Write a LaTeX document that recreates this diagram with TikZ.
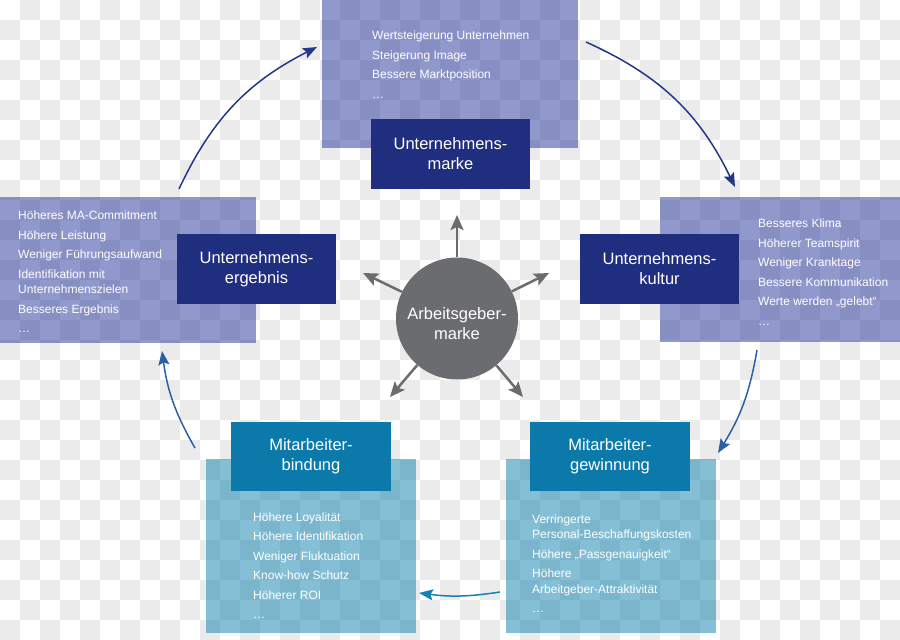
\documentclass[tikz,border=0pt]{standalone}
\usepackage{fontspec}
\setmainfont{Liberation Sans}
\usetikzlibrary{arrows.meta}
\definecolor{navy}{HTML}{1F2E7E}
\definecolor{navyl}{HTML}{22329A}
\definecolor{teal}{HTML}{0B7AAB}
\definecolor{teall}{HTML}{0A80AE}
\definecolor{circgray}{HTML}{6B6C70}
\definecolor{chk}{HTML}{EBEBEB}
\definecolor{arrnavy}{HTML}{233886}
\definecolor{arrblue}{HTML}{2C60A6}
\definecolor{arrteal}{HTML}{1780B5}
\begin{document}
\begin{tikzpicture}[x=1pt,y=-1pt,
  lightbox/.style={draw=none, fill opacity=0.5, inner sep=0pt},
  lnavy/.style={lightbox, fill=navyl},
  lteal/.style={lightbox, fill=teall},
  labelbox/.style={draw=none, text=white, inner sep=0pt, align=center,
    minimum width=159pt, minimum height=70pt,
    font=\fontsize{16.5}{20}\selectfont},
  items/.style={anchor=north west, inner sep=0pt, text=white, align=left,
    font=\fontsize{12}{15.5}\selectfont},
  cyc/.style={line width=1.5pt, -{Stealth[length=14pt,width=11pt,inset=2.5pt]}},
  grayarr/.style={draw=circgray, line width=2.5pt, -{Stealth[length=15pt,width=13pt,inset=3pt]}}
]
\useasboundingbox (0,0) rectangle (900,640);
% checkered background
\fill[white] (0,0) rectangle (900,640);
\foreach \i in {0,...,44}{\foreach \j in {0,...,31}{%
  \ifodd\numexpr\i+\j\relax \fill[chk] (\i*20,\j*20) rectangle ++(20,20);\fi}}

% light boxes
\node[lnavy, minimum width=256pt, minimum height=148pt] (lt) at (450,74) {};
\node[lnavy, minimum width=256pt, minimum height=146pt] (ll) at (128,270) {};
\node[lnavy, minimum width=240pt, minimum height=145pt] (lr) at (780,269.5) {};
\node[lteal, minimum width=210pt, minimum height=174pt] (lbl) at (311,546) {};
\node[lteal, minimum width=210pt, minimum height=174pt] (lbr) at (611,546) {};

% label boxes
\node[labelbox, fill=navy] (bt) at (450.5,154) {Unternehmens-\\marke};
\node[labelbox, fill=navy] (bl) at (256.5,269) {Unternehmens-\\ergebnis};
\node[labelbox, fill=navy] (br) at (659.5,269) {Unternehmens-\\kultur};
\node[labelbox, fill=teal, minimum width=160pt, minimum height=69pt] (bbl) at (311,456.5) {Mitarbeiter-\\bindung};
\node[labelbox, fill=teal, minimum width=160pt, minimum height=69pt] (bbr) at (610,456.5) {Mitarbeiter-\\gewinnung};

% item texts
\node[items] (tt) at (372,28.5) {\strut Wertsteigerung Unternehmen\\[4pt]Steigerung Image\\[4pt]Bessere Marktposition\\[4pt]…};
\node[items] (tl) at (18,208.5) {\strut Höheres MA-Commitment\\[4pt]Höhere Leistung\\[4pt]Weniger Führungsaufwand\\[4pt]Identifikation mit\\Unternehmenszielen\\[4pt]Besseres Ergebnis\\[4pt]…};
\node[items] (tr) at (758,216.5) {\strut Besseres Klima\\[4pt]Höherer Teamspirit\\[4pt]Weniger Kranktage\\[4pt]Bessere Kommunikation\\[4pt]Werte werden „gelebt“\\[4pt]…};
\node[items] (tbl) at (253,510) {\strut Höhere Loyalität\\[4pt]Höhere Identifikation\\[4pt]Weniger Fluktuation\\[4pt]Know-how Schutz\\[4pt]Höherer ROI\\[4pt]…};
\node[items] (tbr) at (532,512) {\strut Verringerte\\Personal-Beschaffungskosten\\[4pt]Höhere „Passgenauigkeit“\\[4pt]Höhere\\Arbeitgeber-Attraktivität\\[4pt]…};

% center circle
\node[circle, fill=circgray, minimum size=122pt, inner sep=0pt] (am) at (457,318.5) {};
\node[text=white, align=center, inner sep=0pt, font=\fontsize{16.5}{20}\selectfont] (amt) at (457,324) {Arbeitsgeber-\\marke};
\coordinate (g1) at (457,215);
\coordinate (g2) at (363,273);
\coordinate (g3) at (549,273);
\coordinate (g4) at (390,397);
\coordinate (g5) at (523,397);
\foreach \g in {g1,g2,g3,g4,g5} \draw[grayarr] (am) -- (\g);

% cycle arrows
\coordinate (c1s) at (179,189); \coordinate (c1e) at (317,47);
\coordinate (c2s) at (586,42);  \coordinate (c2e) at (735,187);
\coordinate (c3s) at (757,350); \coordinate (c3e) at (718,453);
\coordinate (c4s) at (500,592); \coordinate (c4e) at (419,593);
\coordinate (c5s) at (195,448); \coordinate (c5e) at (162,351);
\draw[cyc, arrnavy] (c1s) to[bend left=19] (c1e);
\draw[cyc, arrnavy] (c2s) to[bend left=20] (c2e);
\draw[cyc, arrblue] (c3s) to[bend left=11] (c3e);
\draw[cyc, arrteal] (c4s) to[bend left=8] (c4e);
\draw[cyc, arrblue] (c5s) to[bend left=11] (c5e);
\end{tikzpicture}
\end{document}
